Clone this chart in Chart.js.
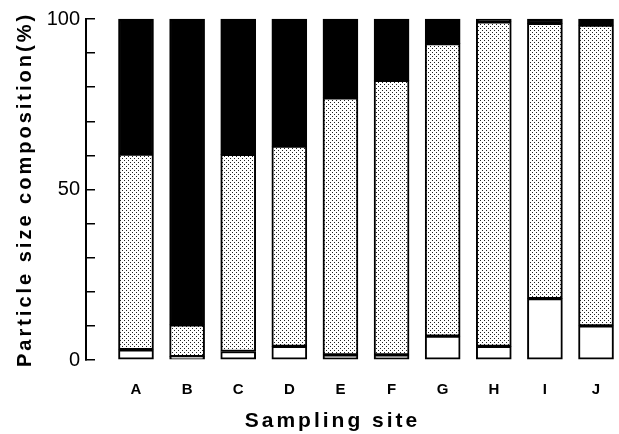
<!DOCTYPE html>
<html>
<head>
<meta charset="utf-8">
<script src="https://cdn.jsdelivr.net/npm/chart.js@4"></script>
<style>
  html, body { margin: 0; padding: 0; background: #fff; }
  #wrap { width: 619px; height: 434px; }
</style>
</head>
<body>
<div id="wrap"><canvas id="c"></canvas></div>
<script>
// sampling sites and composition (%)
const sites = ['A', 'B', 'C', 'D', 'E', 'F', 'G', 'H', 'I', 'J'];
const finePart   = [3, 1, 2.5, 4, 1.5, 1.5, 7, 4, 18, 10];          // white (bottom)
const middlePart = [57.4, 9.3, 57.8, 58.7, 75.4, 80.5, 85.8, 95.2, 80.7, 88.2]; // dotted
const coarsePart = [39.6, 89.7, 39.7, 37.3, 23.1, 18, 7.2, 0.8, 1.3, 1.8];     // black (top)
const yTickLabels = { 0: '0', 50: '50', 100: '100' };

// dotted fill
let pc = document.createElement('canvas');
pc.width = 4; pc.height = 4;
let pctx = pc.getContext('2d');
pctx.fillStyle = '#fff';
pctx.fillRect(0, 0, 4, 4);
pctx.fillStyle = '#222';
pctx.fillRect(0, 0, 1, 1);
pctx.fillRect(2, 2, 1, 1);
let dots = pctx.createPattern(pc, 'repeat');

function pts(arr) {
  return arr.map((v, i) => ({ x: i + 1, y: v }));
}

// wide letter spacing for the axis titles only
const spacing = {
  id: 'spacing',
  beforeDraw(chart) { chart.ctx.letterSpacing = '3px'; },
  beforeDatasetsDraw(chart) { chart.ctx.letterSpacing = '0px'; }
};

const common = {
  borderColor: '#000',
  borderWidth: 2,
  borderSkipped: false,
  barThickness: 35,
  clip: false
};

let ctx = document.getElementById('c').getContext('2d');
let chart = new Chart(ctx, {
  type: 'bar',
  data: {
    datasets: [
      Object.assign({ label: 'fine', data: pts(finePart), backgroundColor: '#fff' }, common),
      Object.assign({ label: 'middle', data: pts(middlePart), backgroundColor: dots }, common),
      Object.assign({ label: 'coarse', data: pts(coarsePart), backgroundColor: '#000' }, common)
    ]
  },
  options: {
    responsive: true,
    maintainAspectRatio: false,
    animation: false,
    layout: { padding: { top: 19, right: 40, left: 0, bottom: 0 } },
    plugins: { legend: { display: false }, tooltip: { enabled: false } },
    scales: {
      x: {
        type: 'linear',
        stacked: true,
        offset: false,
        min: 0.022,
        max: 9.667,
        afterBuildTicks: s => { s.ticks = sites.map((_, i) => ({ value: i + 1 })); },
        afterFit: s => { s.height = 74; s.paddingLeft = 0; s.paddingRight = 0; },
        grid: { display: false },
        border: { display: false },
        ticks: {
          z: 1,
          autoSkip: false,
          maxRotation: 0,
          padding: 13,
          color: '#000',
          font: { family: 'Liberation Sans', size: 15, weight: 'bold' },
          callback: v => sites[v - 1]
        },
        title: {
          display: true,
          text: 'Sampling site',
          color: '#000',
          font: { family: 'Liberation Sans', size: 21, weight: 'bold' },
          padding: { top: 7, bottom: 0 }
        }
      },
      y: {
        stacked: true,
        min: 0,
        max: 100,
        afterFit: s => { s.width = 86; s.paddingTop = 0; s.paddingBottom = 0; },
        grid: { drawOnChartArea: false, tickLength: -9, color: '#000', lineWidth: 1.5 },
        border: { display: true, color: '#000', width: 2 },
        ticks: {
          z: 1,
          stepSize: 10,
          autoSkip: false,
          padding: 15,
          color: '#000',
          font: { family: 'Liberation Sans', size: 20 },
          callback: v => yTickLabels[v] !== undefined ? yTickLabels[v] : ''
        },
        title: {
          display: true,
          text: 'Particle size composition(%)',
          color: '#000',
          font: { family: 'Liberation Sans', size: 20, weight: 'bold' },
          padding: { top: 13, bottom: 0 }
        }
      }
    }
  },
  plugins: [spacing]
});
</script>
</body>
</html>
